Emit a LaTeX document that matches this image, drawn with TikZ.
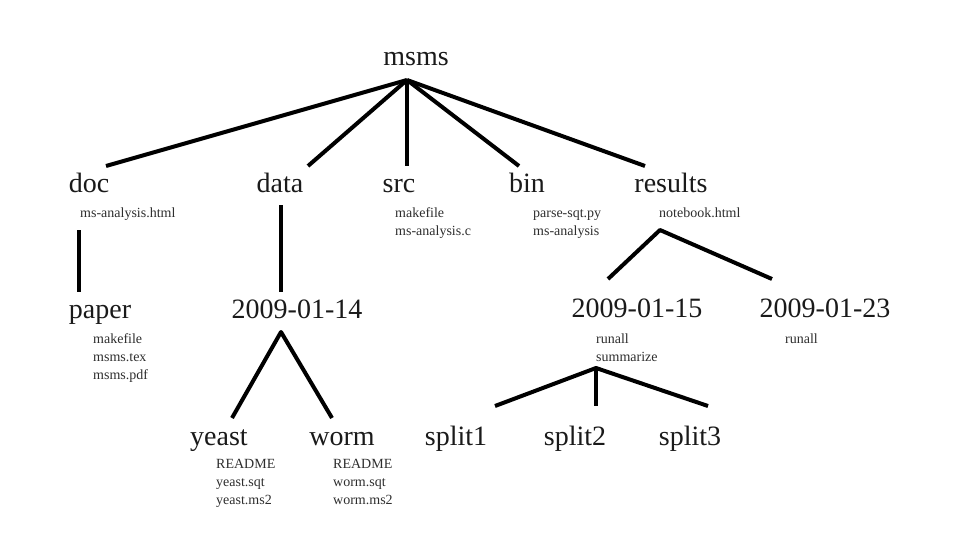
\documentclass[tikz,border=0pt]{standalone}
\usepackage{fontspec}
\setmainfont{Liberation Serif}
\definecolor{bigtext}{HTML}{1A1A1A}
\definecolor{smalltext}{HTML}{2E2E2E}
\tikzset{
  dirlabel/.style={font=\fontsize{28}{34}\selectfont, text=bigtext, inner sep=0pt, anchor=base},
  filelist/.style={font=\fontsize{14}{18}\selectfont, text=smalltext, inner sep=0pt, anchor=base west},
  branch/.style={line width=4pt, draw=black, line cap=butt, line join=round}
}
\newcommand{\flist}[1]{\begin{tabular}[t]{@{}l@{}}#1\end{tabular}}
\begin{document}
\begin{tikzpicture}[x=1pt,y=-1pt]
\useasboundingbox[fill=white] (0,0) rectangle (960,540);
% directory labels
\node[dirlabel] (msms) at (416,66) {msms};
\node[dirlabel] (doc) at (89,193) {doc};
\node[dirlabel] (data) at (280,193) {data};
\node[dirlabel] (src) at (399,193) {src};
\node[dirlabel] (bin) at (527,193) {bin};
\node[dirlabel] (results) at (671,193) {results};
\node[dirlabel] (paper) at (100,318) {paper};
\node[dirlabel] (d14) at (297,318) {2009-01-14};
\node[dirlabel] (d15) at (637,317) {2009-01-15};
\node[dirlabel] (d23) at (825,317) {2009-01-23};
\node[dirlabel] (yeast) at (219,445) {yeast};
\node[dirlabel] (worm) at (342,445) {worm};
\node[dirlabel] (split1) at (456,445) {split1};
\node[dirlabel] (split2) at (575,445) {split2};
\node[dirlabel] (split3) at (690,445) {split3};
% file lists
\node[filelist] (docF) at (80,217) {\flist{ms-analysis.html}};
\node[filelist] (srcF) at (395,217) {\flist{makefile\\ms-analysis.c}};
\node[filelist] (binF) at (533,217) {\flist{parse-sqt.py\\ms-analysis}};
\node[filelist] (resF) at (659,217) {\flist{notebook.html}};
\node[filelist] (paperF) at (93,343) {\flist{makefile\\msms.tex\\msms.pdf}};
\node[filelist] (d15F) at (596,343) {\flist{runall\\summarize}};
\node[filelist] (d23F) at (785,343) {\flist{runall}};
\node[filelist] (yeastF) at (216,468) {\flist{README\\yeast.sqt\\yeast.ms2}};
\node[filelist] (wormF) at (333,468) {\flist{README\\worm.sqt\\worm.ms2}};
% connector end points
\coordinate (msmsJ) at (407,80);
\coordinate (docT) at (106,166);
\coordinate (dataT) at (308,166);
\coordinate (srcT) at (407,166);
\coordinate (binT) at (519,166);
\coordinate (resT) at (645,166);
\coordinate (docB) at (79,230);
\coordinate (paperT) at (79,292);
\coordinate (dataB) at (281,205);
\coordinate (d14T) at (281,292);
\coordinate (d14J) at (281,332);
\coordinate (yeastT) at (232,418);
\coordinate (wormT) at (332,418);
\coordinate (resJ) at (660,230);
\coordinate (d15T) at (608,279);
\coordinate (d23T) at (772,279);
\coordinate (d15J) at (596,368);
\coordinate (split1T) at (495,406);
\coordinate (split2T) at (596,406);
\coordinate (split3T) at (708,406);
% connectors
\draw[branch] (msmsJ) -- (docT);
\draw[branch] (msmsJ) -- (dataT);
\draw[branch] (msmsJ) -- (srcT);
\draw[branch] (msmsJ) -- (binT);
\draw[branch] (msmsJ) -- (resT);
\draw[branch] (docB) -- (paperT);
\draw[branch] (dataB) -- (d14T);
\draw[branch] (yeastT) -- (d14J) -- (wormT);
\draw[branch] (d15T) -- (resJ) -- (d23T);
\draw[branch] (split1T) -- (d15J) -- (split3T);
\draw[branch] (d15J) -- (split2T);
\end{tikzpicture}
\end{document}
